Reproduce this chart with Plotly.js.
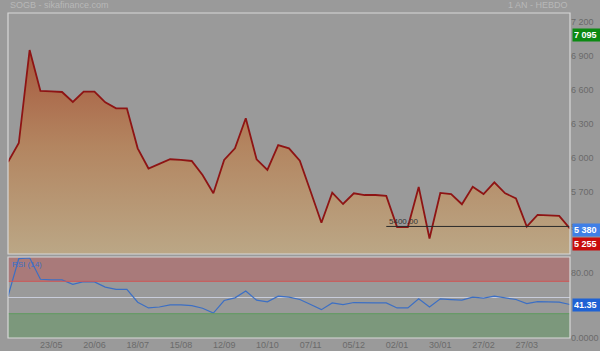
<!DOCTYPE html>
<html>
<head>
<meta charset="utf-8">
<script src="https://cdn.plot.ly/plotly-3.0.1.min.js"></script>
<style>
  html, body { margin: 0; padding: 0; background: #9a9a9a; }
  #chart { width: 600px; height: 351px; }
</style>
</head>
<body>
<div id="chart"></div>
<script>
// Weekly dates (1 AN - HEBDO)
const dates = [
  "2014-04-25","2014-05-02","2014-05-09","2014-05-16","2014-05-23","2014-05-30",
  "2014-06-06","2014-06-13","2014-06-20","2014-06-27","2014-07-04","2014-07-11",
  "2014-07-18","2014-07-25","2014-08-01","2014-08-08","2014-08-15","2014-08-22",
  "2014-08-29","2014-09-05","2014-09-12","2014-09-19","2014-09-26","2014-10-03",
  "2014-10-10","2014-10-17","2014-10-24","2014-10-31","2014-11-07","2014-11-14",
  "2014-11-21","2014-11-28","2014-12-05","2014-12-12","2014-12-19","2014-12-26",
  "2015-01-02","2015-01-09","2015-01-16","2015-01-23","2015-01-30","2015-02-06",
  "2015-02-13","2015-02-20","2015-02-27","2015-03-06","2015-03-13","2015-03-20",
  "2015-03-27","2015-04-03","2015-04-10","2015-04-17","2015-04-24"
];

// Weekly closing prices (SOGB)
const closes = [
  5966, 6133, 6950, 6590, 6587, 6581, 6493, 6584, 6584, 6490, 6438, 6438,
  6086, 5909, 5949, 5990, 5984, 5975, 5852, 5691, 5984, 6086, 6350, 5990,
  5896, 6115, 6086, 5978, 5707, 5433, 5697, 5597, 5691, 5676, 5676, 5668,
  5395, 5395, 5747, 5294, 5694, 5685, 5595, 5749, 5685, 5788, 5691, 5647,
  5398, 5501, 5498, 5492, 5380
];

// RSI (14)
const rsi = [
  51.6, 98, 99, 72.5, 71.7, 71.7, 66.3, 69.6, 69.2, 62.9, 60, 60,
  44.2, 37.1, 38.3, 40.8, 40.8, 40, 36.7, 30.8, 46.3, 49.6, 57.9, 46.7,
  44.6, 51.7, 50.4, 47.5, 41.3, 35, 43.3, 41.3, 43.8, 43.3, 43.3, 43.3,
  37.1, 37.1, 48.3, 38.3, 48.3, 47.5, 46.7, 50.4, 49.2, 51.7, 49.2, 47.5,
  42.5, 45, 44.6, 44.2, 41.35
];

const xTickVals = ["2014-05-23","2014-06-20","2014-07-18","2014-08-15","2014-09-12","2014-10-10",
                   "2014-11-07","2014-12-05","2015-01-02","2015-01-30","2015-02-27","2015-03-27"];
const xTickText = ["23/05","20/06","18/07","15/08","12/09","10/10","07/11","05/12","02/01","30/01","27/02","27/03"];

const priceTickVals = [5400, 5700, 6000, 6300, 6600, 6900, 7200];
const priceTickText = ["5 400","5 700","6 000","6 300","6 600","6 900","7 200"];

const rsiTickVals = [0, 80];
const rsiTickText = ["0.0000", "80.00"];

const highValue = 7095, lastValue = 5380, lowValue = 5255, lastRsi = 41.35;
const supportLevel = 5400, supportStartDate = "2014-12-26";

const priceRange = [5158, 7275];
const gray = "#9a9a9a";
const tickColor = "#6a6a6a";
const frameColor = "#d8d8d8";

const priceTrace = {
  x: dates, y: closes, type: "scatter", mode: "lines",
  line: { color: "#8e1414", width: 1.8 },
  fill: "tozeroy",
  fillgradient: {
    type: "vertical",
    start: priceRange[0], stop: priceRange[1],
    colorscale: [[0, "#bba786"], [0.45, "#b38560"], [0.8, "#a85e42"], [1, "#973d2f"]]
  },
  xaxis: "x", yaxis: "y", hoverinfo: "skip"
};

const rsiTrace = {
  x: dates, y: rsi, type: "scatter", mode: "lines",
  line: { color: "#3c6fc4", width: 1.2 },
  xaxis: "x", yaxis: "y2", hoverinfo: "skip"
};

const priceDom = [0.2585, 1];
const rsiDom = [0, 0.2492];

const shapes = [
  { type: "rect", xref: "paper", yref: "y2", x0: 0, x1: 1, y0: 70, y1: 100,
    fillcolor: "#a97a7a", line: { width: 0 }, layer: "below" },
  { type: "rect", xref: "paper", yref: "y2", x0: 0, x1: 1, y0: 0, y1: 30,
    fillcolor: "#7c987c", line: { width: 0 }, layer: "below" },
  { type: "line", xref: "paper", yref: "y2", x0: 0, x1: 1, y0: 70, y1: 70,
    line: { color: "#cf5555", width: 1 } },
  { type: "line", xref: "paper", yref: "y2", x0: 0, x1: 1, y0: 30, y1: 30,
    line: { color: "#5f9a5f", width: 1 } },
  { type: "line", xref: "paper", yref: "y2", x0: 0, x1: 1, y0: 50, y1: 50,
    line: { color: "#c8ccda", width: 1.2 }, layer: "below" },
  { type: "line", xref: "x", yref: "y", x0: supportStartDate, x1: dates[dates.length - 1],
    y0: supportLevel, y1: supportLevel, line: { color: "#2a2a2a", width: 1 } },
  { type: "rect", xref: "paper", yref: "paper", x0: 0, x1: 1, y0: priceDom[0], y1: priceDom[1],
    line: { color: frameColor, width: 1.2 }, fillcolor: "rgba(0,0,0,0)" },
  { type: "rect", xref: "paper", yref: "paper", x0: 0, x1: 1, y0: rsiDom[0], y1: rsiDom[1],
    line: { color: frameColor, width: 1.2 }, fillcolor: "rgba(0,0,0,0)" }
];

function badge(y, yref, text, bg, yshift) {
  return {
    xref: "paper", yref: yref, x: 1, y: y, xanchor: "left", yanchor: "middle",
    xshift: 2, yshift: yshift || 0, text: "<b>" + text + "</b>", showarrow: false,
    bgcolor: bg, borderpad: 1, width: 26, height: 10, align: "left",
    font: { family: "Liberation Sans, Arial, sans-serif", size: 9, color: "#ffffff" }
  };
}

const annotations = [
  { xref: "paper", yref: "paper", x: 0, y: 1, xanchor: "left", yanchor: "bottom", yshift: 1,
    text: "SOGB - sikafinance.com", showarrow: false,
    font: { family: "Liberation Sans, Arial, sans-serif", size: 9, color: "#b8b8b8" } },
  { xref: "paper", yref: "paper", x: 1, y: 1, xanchor: "right", yanchor: "bottom", yshift: 1,
    text: "1 AN - HEBDO", showarrow: false,
    font: { family: "Liberation Sans, Arial, sans-serif", size: 9, color: "#b8b8b8" } },
  { xref: "x", yref: "y", x: supportStartDate, y: supportLevel, xanchor: "left", yanchor: "bottom",
    xshift: 1, yshift: -2, text: "5400.00", showarrow: false,
    font: { family: "Liberation Sans, Arial, sans-serif", size: 8, color: "#333333" } },
  { xref: "paper", yref: "y2", x: 0, y: 100, xanchor: "left", yanchor: "top",
    xshift: 2, yshift: -1, text: "RSI (14)", showarrow: false,
    font: { family: "Liberation Sans, Arial, sans-serif", size: 8, color: "#3c6fc4" } },
  badge(highValue, "y", "7 095", "#0b8a12", -2),
  badge(lastValue, "y", "5 380", "#3f7fe6", -1),
  badge(lowValue, "y", "5 255", "#c80d0d", -1),
  badge(lastRsi, "y2", "41.35", "#1f62d4", 0)
];

const layout = {
  width: 600, height: 351,
  margin: { l: 8, r: 30, t: 13, b: 13, pad: 0 },
  paper_bgcolor: gray, plot_bgcolor: gray,
  showlegend: false,
  font: { family: "Liberation Sans, Arial, sans-serif", size: 9, color: tickColor },
  xaxis: {
    type: "date", range: [dates[0], dates[dates.length - 1]],
    anchor: "y2", tickvals: xTickVals, ticktext: xTickText,
    showgrid: false, zeroline: false, showline: false, ticks: "",
    tickfont: { size: 9, color: tickColor }, fixedrange: true
  },
  yaxis: {
    domain: priceDom, range: priceRange, side: "right", anchor: "x",
    tickvals: priceTickVals, ticktext: priceTickText,
    showgrid: false, zeroline: false, showline: false, ticks: "",
    tickfont: { size: 9, color: tickColor }, fixedrange: true
  },
  yaxis2: {
    domain: rsiDom, range: [0, 100], side: "right", anchor: "x",
    tickvals: rsiTickVals, ticktext: rsiTickText,
    showgrid: false, zeroline: false, showline: false, ticks: "",
    tickfont: { size: 9, color: tickColor }, fixedrange: true
  },
  shapes: shapes,
  annotations: annotations
};

Plotly.newPlot("chart", [priceTrace, rsiTrace], layout, { displayModeBar: false, staticPlot: true });
</script>
</body>
</html>
